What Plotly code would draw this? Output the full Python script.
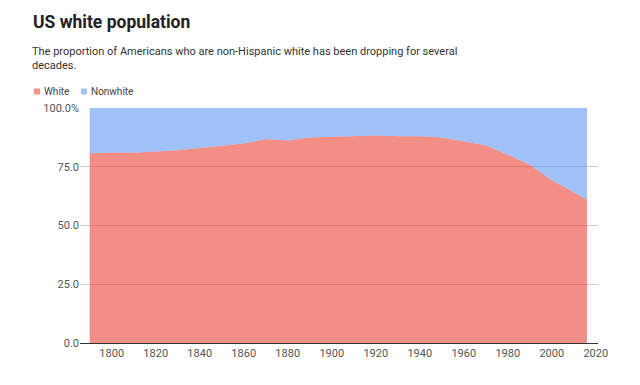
import plotly.graph_objects as go

years = [1790, 1800, 1810, 1820, 1830, 1840, 1850, 1860, 1870, 1880, 1890, 1900,
         1910, 1920, 1930, 1940, 1950, 1960, 1970, 1980, 1990, 2000, 2010, 2016]
white = [80.7, 81.1, 81.0, 81.4, 82.0, 83.0, 83.9, 84.9, 86.8, 86.2, 87.4, 87.6,
         87.8, 88.3, 88.0, 88.0, 87.5, 85.8, 84.1, 80.1, 75.8, 69.3, 64.3, 60.9]
nonwhite = [round(100 - w, 1) for w in white]

x_ticks = [1800, 1820, 1840, 1860, 1880, 1900, 1920, 1940, 1960, 1980, 2000, 2020]
y_ticks = [0, 25, 50, 75, 100]
y_labels = ["0.0", "25.0", "50.0", "75.0", "100.0%"]

series_names = ["White", "Nonwhite"]
fills = ["rgba(234,67,53,0.6)", "rgba(66,133,244,0.5)"]
swatches = ["#ee938d", "#a3c4f4"]

OFF = 8  # page body offset
W, H = 640, 385
ML, MR, MT, MB = 80 - OFF, 50, 108 - OFF, 50
pw, ph = W - ML - MR, H - MT - MB
def px(xp):
    return (xp - OFF - ML) / pw
def py(yp):
    return (H - MB - (yp - OFF)) / ph

fig = go.Figure()
for name, vals, fc in zip(series_names, [white, nonwhite], fills):
    fig.add_trace(go.Scatter(x=years, y=vals, name=name, mode="lines",
                             stackgroup="one", line=dict(width=0),
                             fillcolor=fc, hoverinfo="skip"))

font_fam = "Roboto, Arial, sans-serif"
annotations = [
    dict(text="<b>US white population</b>", x=px(31), y=py(21.5), xref="paper", yref="paper",
         xanchor="left", yanchor="middle", showarrow=False,
         font=dict(size=17.5, color="#222222", family=font_fam)),
    dict(text="The proportion of Americans who are non-Hispanic white has been dropping for several<br>decades.",
         x=px(30), y=py(43), xref="paper", yref="paper", xanchor="left", yanchor="top",
         align="left", showarrow=False,
         font=dict(size=11, color="#333333", family=font_fam)),
]
shapes = []
leg_x = [34, 81]
for i, (name, sw) in enumerate(zip(series_names, swatches)):
    shapes.append(dict(type="rect", xref="paper", yref="paper",
                       x0=px(leg_x[i]), x1=px(leg_x[i] + 6),
                       y0=py(94.5), y1=py(88.5), fillcolor=sw, line=dict(width=0)))
    annotations.append(dict(text=name, x=px(leg_x[i] + 8), y=py(91.5), xref="paper", yref="paper",
                            xanchor="left", yanchor="middle", showarrow=False,
                            font=dict(size=10, color="#444444", family=font_fam)))

fig.update_layout(
    width=W, height=H,
    margin=dict(l=ML, r=MR, t=MT, b=MB, autoexpand=False),
    paper_bgcolor="white", plot_bgcolor="white",
    font=dict(family=font_fam, size=11, color="#555555"),
    showlegend=False,
    xaxis=dict(range=[1785.6, 2021], tickvals=x_ticks, ticktext=[str(t) for t in x_ticks],
               showgrid=False, zeroline=False, showline=True, linecolor="#333333",
               linewidth=1, ticks="", tickfont=dict(size=11, color="#555555")),
    yaxis=dict(range=[0, 100], tickvals=y_ticks, ticktext=y_labels,
               showgrid=True, gridcolor="#cccccc", zeroline=False, showline=False,
               ticks="", tickfont=dict(size=11, color="#555555")),
    annotations=annotations,
    shapes=shapes,
)

fig.write_html("out.html")
